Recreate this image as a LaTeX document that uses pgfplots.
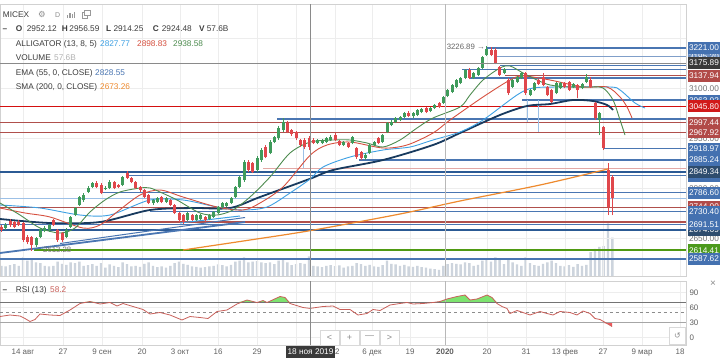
\documentclass[border=0pt]{standalone}
\usepackage{fontspec}
\setmainfont{Liberation Sans}
\newfontfamily\dejavu{DejaVu Sans}
\usepackage{pgfplots}
\usepackage{pgfplotstable}
\pgfplotsset{compat=1.18}

\definecolor{cup}{HTML}{3F9B5B}
\definecolor{cdn}{HTML}{E0474C}
\definecolor{lnblue}{HTML}{4A76B2}
\definecolor{lnlblue}{HTML}{9CC0E6}
\definecolor{lnred}{HTML}{D40F0F}
\definecolor{lnbrown}{HTML}{B0504C}
\definecolor{lnsalmon}{HTML}{E2A9A6}
\definecolor{lndark}{HTML}{2B5A94}
\definecolor{lngreen}{HTML}{4F9A12}
\definecolor{jaw}{HTML}{3DA0E3}
\definecolor{teeth}{HTML}{D6503F}
\definecolor{lips}{HTML}{4E8C50}
\definecolor{ema}{HTML}{183A5E}
\definecolor{sma}{HTML}{EE8A2E}
\definecolor{vol}{HTML}{CDD4DD}
\definecolor{gridc}{HTML}{EDEDED}
\definecolor{txt}{HTML}{3D3D3D}
\definecolor{rsiline}{HTML}{C9605A}
\definecolor{rsigreen}{HTML}{7DE36F}
\definecolor{rsired}{HTML}{F0585C}
\definecolor{lblblue}{HTML}{4471B0}
\definecolor{lbldark}{HTML}{2E4C6D}
\definecolor{lblcross}{HTML}{3A3A3A}
\definecolor{lblred}{HTML}{D11A1A}
\definecolor{lblbrown}{HTML}{B14A48}
\definecolor{lblgreen}{HTML}{4C9A1C}
\definecolor{crossc}{HTML}{8A8A8A}

\pgfplotstableread{
x o h l c v
5.6 2681 2695 2676 2690 28
36 2630 2655 2624 2651 40
40.3 2654 2682 2650 2678 38
44.7 2672 2686 2668 2681 30
49 2675 2694 2670 2690 28
66.3 2654 2680 2650 2675 33
70.6 2684 2718 2680 2714 40
75 2720 2745 2716 2741 38
79.3 2750 2778 2746 2774 42
83.6 2765 2785 2760 2780 30
88 2789 2806 2785 2801 32
92.3 2804 2820 2800 2816 35
105.3 2798 2806 2794 2801 25
109.6 2801 2824 2797 2819 34
122.6 2810 2838 2806 2834 40
153 2756 2769 2750 2765 30
157.3 2759 2775 2755 2771 26
166 2759 2775 2756 2771 25
187.6 2705 2730 2701 2726 33
196.3 2705 2724 2701 2720 27
200.6 2708 2724 2704 2720 25
209.3 2708 2724 2704 2720 28
213.6 2714 2733 2710 2729 30
218 2726 2748 2722 2744 34
222.3 2744 2760 2740 2756 32
226.6 2747 2760 2743 2756 28
231 2756 2775 2752 2771 33
235.3 2774 2808 2770 2804 42
239.6 2804 2838 2800 2834 45
244 2825 2884 2820 2879 55
257 2855 2896 2850 2891 44
261.3 2885 2920 2880 2915 40
270 2906 2944 2902 2939 40
274.3 2939 2958 2935 2954 35
278.6 2951 2986 2946 2981 45
283 2975 3011 2970 2999 48
317.6 2936 2949 2932 2945 28
322 2936 2947 2932 2942 26
326.3 2939 2955 2935 2951 30
330.6 2945 2960 2941 2954 32
343.6 2930 2943 2926 2939 25
352.3 2936 2958 2932 2954 30
365.3 2891 2905 2885 2900 30
369.6 2906 2934 2902 2930 33
374 2930 2943 2926 2939 28
382.6 2939 2964 2935 2960 32
387 2969 3000 2965 2996 45
391.3 2990 3004 2986 2999 36
395.6 2999 3015 2995 3011 34
400 3005 3018 3001 3014 30
404.3 3014 3030 3010 3026 33
413 3017 3030 3012 3026 27
417.3 3020 3039 3016 3035 30
421.6 3029 3042 3025 3038 26
430.3 3032 3045 3028 3041 22
434.6 3041 3054 3037 3050 20
443.3 3056 3078 3052 3074 30
447.6 3077 3099 3073 3095 35
452 3089 3114 3085 3110 38
456.3 3104 3129 3100 3125 36
460.6 3116 3135 3112 3131 34
465 3131 3159 3127 3155 40
473.6 3131 3150 3127 3146 30
478 3140 3165 3136 3161 33
482.3 3161 3198 3157 3194 45
486.6 3200 3226.89 3196 3218 50
504 3146 3162 3142 3158 35
512.6 3104 3129 3100 3125 40
517 3119 3138 3115 3134 34
521.3 3131 3150 3127 3146 30
530 3080 3099 3076 3095 38
534.3 3095 3120 3091 3116 32
556 3086 3120 3082 3116 38
560.3 3101 3120 3097 3116 30
573.3 3104 3117 3100 3113 27
582 3101 3117 3097 3113 30
586.3 3119 3143 3115 3134 33
599.3 3005 3030 2960 3026 86
}\candlesUp

\pgfplotstableread{
x o h l c v
1.3 2684 2690 2670 2675 30
10 2702 2708 2685 2690 32
14.3 2699 2703 2680 2684 35
18.7 2699 2704 2686 2690 30
23 2696 2700 2640 2645 55
27.3 2654 2660 2632 2639 45
31.7 2654 2658 2613 2630 50
53.3 2705 2709 2686 2690 30
57.6 2675 2678 2640 2645 42
62 2666 2670 2638 2645 36
96.6 2816 2822 2800 2804 30
101 2810 2815 2782 2786 38
114 2819 2822 2797 2801 30
118.3 2810 2814 2800 2804 26
127 2846 2852 2828 2831 35
131.3 2831 2834 2815 2819 28
135.6 2819 2822 2797 2801 30
140 2804 2808 2790 2795 27
144.3 2795 2798 2770 2774 36
148.6 2780 2784 2752 2756 40
161.6 2774 2778 2755 2759 28
170.3 2765 2768 2746 2750 30
174.6 2750 2753 2722 2726 38
179 2726 2729 2700 2705 42
183.3 2720 2724 2694 2699 36
192 2720 2723 2701 2705 28
205 2714 2718 2700 2705 26
248.3 2879 2885 2850 2855 40
252.6 2876 2880 2845 2849 42
265.6 2924 2930 2890 2894 38
287.3 2996 3002 2965 2969 40
291.6 2975 2978 2958 2963 32
296 2969 2973 2946 2951 35
300.3 2945 2949 2925 2930 38
304.6 2945 2950 2918 2924 36
309 2952.12 2956.59 2914.25 2924.48 57.6
313.3 2945 2950 2932 2936 30
335 2960 2966 2941 2945 29
339.3 2942 2946 2926 2930 31
348 2936 2940 2920 2924 28
356.6 2921 2925 2889 2894 38
361 2909 2913 2885 2891 35
378.3 2951 2955 2932 2936 27
408.6 3026 3031 3013 3017 28
426 3041 3045 3025 3029 25
439 3056 3060 3040 3044 18
469.3 3155 3160 3127 3131 38
491 3215 3224 3196 3200 42
495.3 3215 3220 3172 3176 55
499.6 3164 3168 3136 3140 48
508.3 3125 3130 3080 3086 52
525.6 3146 3150 3080 3086 55
538.6 3125 3129 3109 3113 30
543 3134 3146 3106 3110 36
547.3 3104 3108 3076 3080 40
551.6 3095 3099 3055 3059 45
564.6 3116 3120 3100 3104 28
569 3119 3123 3091 3095 32
577.6 3110 3114 3071 3095 35
590.6 3125 3134 3100 3104 70
595 3056 3060 3005 3011 80
603.6 2984 2988 2915 2921 88
608 2855 2876 2720 2744 155
612.3 2834 2840 2720 2771 113
}\candlesDown

\pgfplotstableread{
x r
0 42
10 45
20 43
25 38
30 32
35 36
40 47
50 45
60 44
70 55
80 68
90 72
100 67
110 70
117 63
123 68
133 62
143 56
150 47
160 50
170 45
182 35
190 42
200 40
208 38
217 52
227 55
237 67
247 75
257 70
263 74
267 70
280 82
285 80
290 68
303 60
310 58.2
323 62
333 63
340 56
350 56
358 45
367 48
373 56
380 54
390 65
400 68
407 70
413 67
423 68
433 70
440 72
447 77
457 82
465 85
470 75
477 77
487 85
492 80
497 68
502 62
507 58
510 48
517 54
523 50
530 45
540 52
547 48
553 45
560 52
570 50
577 45
583 53
590 48
595 38
600 36
607 28
612 22
}\rsidata

\newcommand{\lgf}{\fontsize{8.3}{10}\selectfont}
\newcommand{\hlev}[3]{\addplot[forget plot,#3] coordinates {(#1,#2) (686,#2)};}
\newcommand{\plab}[3]{\node[anchor=west, fill=#2, text=white, font=\lgf, minimum width=32.5bp, minimum height=12bp, inner sep=0pt] at (axis cs:687.5,#1) {#3};}
\newcommand{\pgr}[1]{\node[anchor=west, fill=white, text=black!55, font=\lgf, minimum width=32.5bp, minimum height=11bp, inner sep=0pt] at (axis cs:687.5,#1) {#1};}

\begin{document}
\begin{tikzpicture}[x=1bp,y=1bp]
\fill[white] (0,0) rectangle (720,359);
\path[use as bounding box] (0,0) rectangle (720,359);

\begin{axis}[at={(0bp,83bp)}, anchor=south west, scale only axis,
  width=686bp, height=272bp, xmin=0, xmax=686, ymin=0, ymax=800, hide axis]
\addplot[ybar, bar width=2.4bp, bar shift=0pt, fill=vol, draw=none] table[x=x,y=v]{\candlesUp};
\addplot[ybar, bar width=2.4bp, bar shift=0pt, fill=vol, draw=none] table[x=x,y=v]{\candlesDown};
\end{axis}

\begin{axis}[at={(0bp,83bp)}, anchor=south west, scale only axis,
  width=686bp, height=272bp, xmin=0, xmax=686, ymin=2537, ymax=3353,
  axis line style={draw=black!18},
  xtick={23,63,102,142,180,218,257,296,335,372,410,445,487,526,565,603,642,680},
  xticklabels={}, ytick={2650,2800,2950,3100,3250}, yticklabels={},
  major tick length=0pt, grid=major, major grid style={draw=gridc, line width=0.6bp},
  clip mode=individual]
\hlev{0}{3045.8}{lnred, line width=1.8bp}
\hlev{0}{2997.44}{lnbrown, line width=1.5bp}
\hlev{0}{2967.92}{lnbrown, line width=1.5bp}
\hlev{0}{2849.34}{lndark, line width=2bp}
\hlev{0}{2771}{lnlblue, line width=1bp}
\hlev{0}{2744}{lnbrown, line width=1bp}
\hlev{0}{2691.51}{lnblue, line width=1bp}
\hlev{0}{2674.69}{lndark, line width=1.6bp}
\hlev{0}{2587.62}{lnblue, line width=2bp}
\hlev{34}{2614.41}{lngreen, line width=1.6bp}
\hlev{100}{2699}{lnbrown, line width=1.8bp}
\hlev{103}{2786.6}{lnblue, line width=1.2bp}
\hlev{127}{2838.5}{lnblue, line width=1bp}
\hlev{150}{2730.4}{lnblue, line width=1.2bp}
\hlev{263}{2859.5}{lnsalmon, line width=1.2bp}
\hlev{277}{3008}{lnblue, line width=1.2bp}
\hlev{359}{2885.24}{lnblue, line width=1.2bp}
\hlev{462}{3155}{lnblue, line width=1bp}
\hlev{470}{3131}{lnblue, line width=1.3bp}
\hlev{487}{3221}{lnblue, line width=1.4bp}
\hlev{497}{3195}{lnblue!70, line width=1bp}
\hlev{500}{3167}{lnblue, line width=1bp}
\hlev{505}{3137.94}{lnbrown, line width=1.3bp}
\hlev{522}{3065}{lnblue, line width=1.2bp}
\hlev{603}{2918.97}{lnblue, line width=1.4bp}
\addplot[lnlblue, line width=1bp] coordinates {(303,2936) (303,2861)};
\addplot[lnlblue, line width=1bp] coordinates {(527,3065) (527,2999)};
\addplot[lnlblue, line width=1bp] coordinates {(538,3065) (538,2969)};
\addplot[lnblue, line width=1.8bp] coordinates {(0,2606) (245,2699)};
\addplot[lnblue, line width=1bp] coordinates {(60,2634.5) (245,2712.5)};
\addplot[jaw, line width=1bp] coordinates {(180,2696) (240,2717)};
\addplot[sma, line width=1.2bp, smooth] coordinates {(183,2615) (250,2645) (310,2673) (400,2723) (460,2762) (540,2810) (608,2858)};
\addplot[ema, line width=1.8bp, smooth] coordinates {(0,2708) (50,2696) (100,2699) (150,2735) (193,2741) (230,2741) (260,2774) (310,2828.55) (333,2855) (383,2885) (433,2930) (460,2966) (500,3020) (527,3047) (550,3053) (573,3065) (593,3062) (607,3050) (613,3035)};
\addplot[jaw, line width=0.9bp, smooth] coordinates {(0,2750) (40,2741) (80,2720) (110,2720) (150,2765) (183,2765) (217,2744) (243,2735) (267,2744) (290,2786) (310,2827.77) (323,2864) (350,2894) (383,2915) (410,2924) (433,2945) (460,2969) (483,3005) (517,3080) (533,3101) (560,3104) (610,3104) (620,3095) (635,3056) (645,3041)};
\addplot[teeth, line width=0.9bp, smooth] coordinates {(0,2741) (25,2726) (50,2714) (83,2681) (100,2690) (117,2729) (140,2780) (160,2795) (183,2774) (217,2744) (243,2735) (260,2756) (283,2804) (310,2898.83) (327,2930) (350,2939) (383,2921) (407,2930) (433,2966) (450,3005) (483,3074) (510,3125) (523,3137) (550,3125) (583,3104) (607,3104) (620,3074) (627,3044) (632,3011)};
\addplot[lips, line width=0.9bp, smooth] coordinates {(0,2756) (20,2720) (40,2681) (60,2666) (75,2681) (90,2729) (105,2765) (120,2789) (140,2801) (150,2801) (160,2789) (177,2765) (200,2726) (217,2720) (233,2735) (250,2774) (270,2834) (290,2906) (310,2938.58) (333,2945) (350,2945) (367,2936) (383,2924) (400,2945) (417,2981) (433,3011) (460,3044) (470,3080) (483,3125) (500,3161) (510,3167) (523,3146) (537,3125) (550,3110) (570,3104) (590,3104) (603,3101) (613,3065) (620,3005) (625,2960)};
\addplot[cup, line width=0.8bp, quiver={u=0, v=\thisrow{h}-\thisrow{l}}] table[x=x,y=l]{\candlesUp};
\addplot[cdn, line width=0.8bp, quiver={u=0, v=\thisrow{h}-\thisrow{l}}] table[x=x,y=l]{\candlesDown};
\addplot[cup, line width=3bp, quiver={u=0, v=\thisrow{c}-\thisrow{o}}] table[x=x,y=o]{\candlesUp};
\addplot[cdn, line width=3bp, quiver={u=0, v=\thisrow{o}-\thisrow{c}}] table[x=x,y=c]{\candlesDown};
\addplot[black!28, line width=0.7bp] coordinates {(445,2537) (445,3353)};
\addplot[crossc, line width=0.7bp] coordinates {(0,3175.89) (686,3175.89)};
\addplot[crossc, line width=0.7bp] coordinates {(310,2537) (310,3353)};
\node[anchor=east, font=\fontsize{7.8}{9}\selectfont, text=black!60, inner sep=0pt] at (axis cs:485,3226) {3226.89 →};
\node[anchor=west, font=\fontsize{7.8}{9}\selectfont, text=black!55, inner sep=0pt] at (axis cs:43,2615) {2613.28};
\pgr{3100.00}
\pgr{2950.00}
\pgr{2800.00}
\pgr{2650.00}
\plab{3195.2}{lblblue!80}{3195.20}
\plab{3063.0}{lblblue}{3063.02}
\plab{2838.5}{lblblue}{2838.50}
\plab{2744.0}{lblbrown}{2744.00}
\plab{2674.69}{lbldark}{2674.69}
\plab{3221.00}{lblblue}{3221.00}
\plab{3175.89}{lblcross}{3175.89}
\plab{3137.94}{lblbrown}{3137.94}
\plab{3045.80}{lblred}{3045.80}
\plab{2997.44}{lblbrown}{2997.44}
\plab{2967.92}{lblbrown}{2967.92}
\plab{2918.97}{lblblue}{2918.97}
\plab{2885.24}{lblblue}{2885.24}
\plab{2849.34}{lbldark}{2849.34}
\plab{2786.60}{lblblue}{2786.60}
\plab{2730.40}{lblblue}{2730.40}
\plab{2691.51}{lblblue}{2691.51}
\plab{2614.41}{lblgreen}{2614.41}
\plab{2587.62}{lblblue}{2587.62}
\end{axis}

\begin{axis}[at={(0bp,14bp)}, anchor=south west, scale only axis,
  width=686bp, height=64bp, xmin=0, xmax=686, ymin=-15, ymax=113,
  axis line style={draw=black!18},
  xtick={23,63,102,142,180,218,257,296,335,372,410,445,487,526,565,603,642,680},
  xticklabels={14 авг,27,9 сен,20,3 окт,16,29,11,22,6 дек,19,\textbf{2020},20,31,13 фев,27,9 мар,18},
  ytick={0,30,60,90}, yticklabel pos=right,
  major tick length=0pt, grid=major, major grid style={draw=gridc, line width=0.6bp},
  tick label style={font=\fontsize{8}{9}\selectfont, text=black!62},
  /pgf/number format/assume math mode=true]
\addplot[fill=rsigreen, draw=none] table[x=x,y expr={max(\thisrow{r},70)}]{\rsidata} -- (axis cs:612,70) -- (axis cs:0,70) -- cycle;
\addplot[fill=rsired, draw=none] table[x=x,y expr={min(\thisrow{r},30)}]{\rsidata} -- (axis cs:612,30) -- (axis cs:0,30) -- cycle;
\addplot[black!28, line width=0.7bp] coordinates {(445,-15) (445,113)};
\addplot[black!55, line width=0.8bp] coordinates {(0,70) (686,70)};
\addplot[black!45, line width=0.8bp, dashed] coordinates {(0,50) (686,50)};
\addplot[black!35, line width=1.6bp] coordinates {(0,30) (686,30)};
\addplot[rsiline, line width=0.8bp] table[x=x,y=r]{\rsidata};
\addplot[crossc, line width=0.7bp] coordinates {(310,-15) (310,113)};
\end{axis}

\begin{scope}[every node/.style={anchor=base west, inner sep=0pt, font=\lgf, text=txt}]
\node at (2.7,342) {MICEX};
\node[text=black!45] at (38,341.5) {\dejavu\fontsize{8.5}{9}\selectfont ⚙};
\node[text=black!45, font=\fontsize{7}{8}\selectfont] at (55,341.5) {D};
\node at (2.5,327.5) {\textbf{–}};
\node at (15.7,327.5) {\textbf{O}};
\node at (26.7,327.5) {2952.12};
\node at (61.7,327.5) {\textbf{H}};
\node at (69.3,327.5) {2956.59};
\node at (106,327.5) {\textbf{L}};
\node at (113.3,327.5) {2914.25};
\node at (152.7,327.5) {\textbf{C}};
\node at (161.7,327.5) {2924.48};
\node at (199,327.5) {\textbf{V}};
\node at (206.7,327.5) {57.6B};
\node at (15.7,313) {ALLIGATOR (13, 8, 5)};
\node[text=jaw] at (100,313) {2827.77};
\node[text=teeth] at (137,313) {2898.83};
\node[text=lips] at (173,313) {2938.58};
\node at (15.7,299) {VOLUME};
\node[text=black!30] at (54,299) {57.6B};
\node at (15.7,284) {EMA (55, 0, CLOSE)};
\node[text=lnblue] at (95,284) {2828.55};
\node at (15.7,270) {SMA (200, 0, CLOSE)};
\node[text=sma] at (100,270) {2673.26};
\node at (2.5,67) {\textbf{–}};
\node at (15.7,67) {RSI (13)};
\node[text=rsiline] at (50,67) {58.2};
\end{scope}
\fill[black!40] (67,341) rectangle (68.2,344);
\fill[black!40] (69.4,341) rectangle (70.6,346);
\fill[black!40] (71.8,341) rectangle (73,345);
\fill[black!40] (74.2,341) rectangle (75.4,347);
\draw[black!40, line width=0.6bp] (82,341) rectangle (87.5,346.5);
\draw[black!40, fill=white, line width=0.6bp] (84.5,343.5) rectangle (90,349);
\node[text=black!45, font=\fontsize{10}{10}\selectfont] at (713,75) {×};

\begin{scope}[every node/.style={draw=black!15, fill=white, text=black!45, minimum width=19bp, minimum height=15bp, inner sep=0pt, font=\fontsize{9}{9}\selectfont}]
\node at (329.5,21.5) {<};
\node at (349.5,21.5) {+};
\node at (369.5,21.5) {—};
\node at (389.5,21.5) {>};
\node[minimum width=16bp, minimum height=17bp] at (677.5,23.5) {\dejavu\fontsize{8}{9}\selectfont ↺};
\end{scope}
\node[fill=lblcross, text=white, font=\lgf, inner xsep=2bp, minimum height=12.5bp, inner ysep=0pt] at (310.5,7) {18 ноя 2019};
\end{tikzpicture}
\end{document}
